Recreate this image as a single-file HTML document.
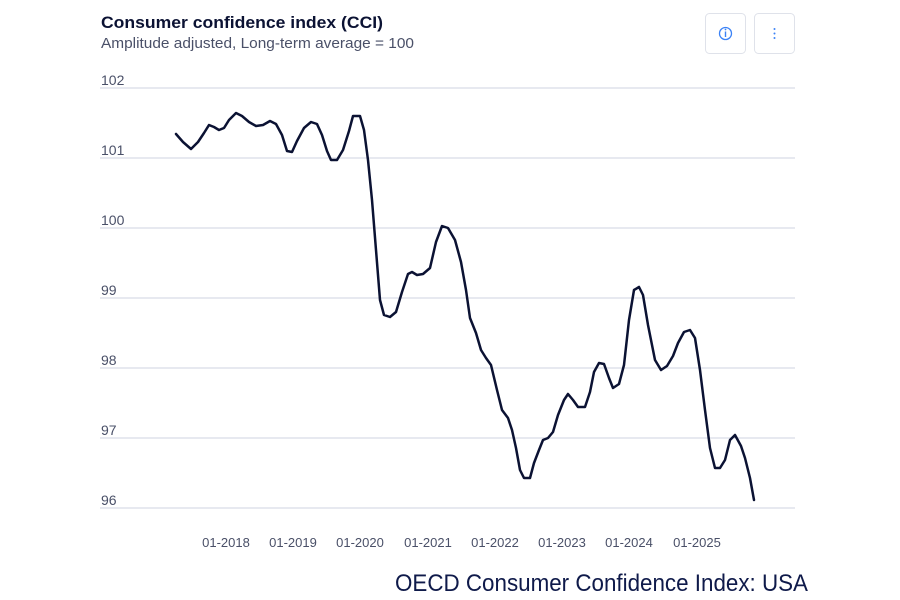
<!DOCTYPE html>
<html><head><meta charset="utf-8"><style>
body{margin:0;width:900px;height:600px;background:#fff;overflow:hidden;font-family:"Liberation Sans",sans-serif;}
</style></head><body>
<svg width="900" height="600" xmlns="http://www.w3.org/2000/svg" style="position:absolute;left:0;top:0">
<text x="101" y="28" font-size="17" font-weight="bold" fill="#0b1233" textLength="282" lengthAdjust="spacingAndGlyphs">Consumer confidence index (CCI)</text>
<text x="101" y="48" font-size="15" fill="#4a5068" textLength="313" lengthAdjust="spacingAndGlyphs">Amplitude adjusted, Long-term average = 100</text>
<rect x="705.5" y="13.5" width="40" height="40" rx="4" fill="#fff" stroke="#dfe2ea"/>
<rect x="754.5" y="13.5" width="40" height="40" rx="4" fill="#fff" stroke="#dfe2ea"/>
<circle cx="725.5" cy="33.5" r="6" fill="none" stroke="#3b82f6" stroke-width="1.3"/>
<line x1="725.5" y1="31.5" x2="725.5" y2="37" stroke="#3b82f6" stroke-width="1.4"/>
<circle cx="725.5" cy="29.5" r="0.9" fill="#3b82f6"/>
<circle cx="774.5" cy="29" r="1" fill="#3b82f6"/><circle cx="774.5" cy="33.5" r="1" fill="#3b82f6"/><circle cx="774.5" cy="38" r="1" fill="#3b82f6"/>
<g stroke="#cfd3e0" stroke-width="1">
<line x1="100" y1="88" x2="795" y2="88"/><line x1="100" y1="158" x2="795" y2="158"/>
<line x1="100" y1="228" x2="795" y2="228"/><line x1="100" y1="298" x2="795" y2="298"/>
<line x1="100" y1="368" x2="795" y2="368"/><line x1="100" y1="438" x2="795" y2="438"/>
<line x1="100" y1="508" x2="795" y2="508"/>
</g>
<g font-size="14" fill="#4a5068">
<text x="101" y="85">102</text><text x="101" y="155">101</text><text x="101" y="225">100</text>
<text x="101" y="295">99</text><text x="101" y="365">98</text><text x="101" y="435">97</text><text x="101" y="505">96</text>
</g>
<g font-size="13" fill="#4a5068" text-anchor="middle">
<text x="226" y="547">01-2018</text><text x="293" y="547">01-2019</text><text x="360" y="547">01-2020</text>
<text x="428" y="547">01-2021</text><text x="495" y="547">01-2022</text><text x="562" y="547">01-2023</text>
<text x="629" y="547">01-2024</text><text x="697" y="547">01-2025</text>
</g>
<polyline fill="none" stroke="#0b1233" stroke-width="2.5" stroke-linejoin="round" stroke-linecap="round" points="176,134 183,142 191,149 198,142 204,133 209,125 214,127 219,130 224,128 229,120 236,113 242,116 249,122 256,126 263,125 270,121 276,124 282,135 287,151 292,152 297,141 304,128 311,122 317,124 322,135 327,151 331,160 337,160 343,150 349,131 353,116 360,116 364,130 368,160 372,200 376,250 380,300 384,315 390,317 396,312 402,292 408,274 412,272 417,275 423,274 430,268 436,242 442,226 448,228 455,240 461,262 466,290 470,318 476,333 481,350 486,358 491,365 497,390 502,410 508,418 512,430 516,448 520,470 524,478 530,478 534,463 539,450 543,440 548,438 553,432 558,415 564,400 568,394 573,400 578,407 585,407 590,392 594,372 599,363 604,364 609,378 613,388 619,384 624,365 629,320 634,290 639,287 643,295 648,325 655,360 661,370 667,366 673,356 678,343 684,332 690,330 695,338 700,370 705,410 710,448 715,468 720,468 725,460 730,440 735,435 741,446 745,458 750,478 754,500"/>
<text x="395" y="591" font-size="24" fill="#0f1a4a" textLength="413" lengthAdjust="spacingAndGlyphs">OECD Consumer Confidence Index: USA</text>
</svg>
</body></html>
